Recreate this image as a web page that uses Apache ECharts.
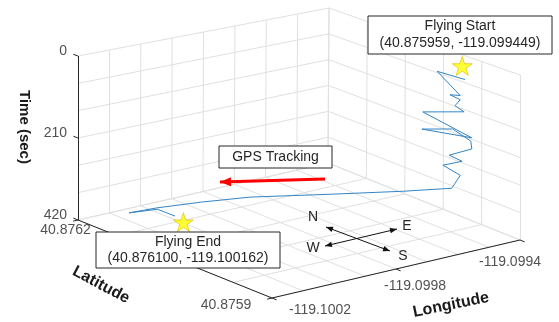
<!DOCTYPE html>
<html>
<head>
<meta charset="utf-8">
<script src="https://cdn.jsdelivr.net/npm/echarts@6/dist/echarts.min.js"></script>
<style>
html, body { margin: 0; padding: 0; background: #fff; }
#gpsTrack { width: 559px; height: 322px; }
</style>
</head>
<body>
<div id="gpsTrack"></div>
<script>
// grid ticks (major labels + minor grid)
const latTicks = [40.8759, 40.87596, 40.87602, 40.87608, 40.87614, 40.8762];
const lonTicks = [-119.1002, -119.1001, -119.1000, -119.0999, -119.0998, -119.0997, -119.0996, -119.0995, -119.0994];
const timeTicks = [0, 70, 140, 210, 280, 350, 420];
const latLabels = [40.8762, 40.8759];
const lonLabels = [-119.1002, -119.0998, -119.0994];
const timeLabels = [0, 210, 420];

// flight path
const pathTime = [20, 30, 50, 60, 70, 85, 100, 110, 160, 165, 170, 185, 200, 215, 230, 240, 260, 295, 300, 310, 320, 330, 340, 350, 360, 370];
const pathLat = [40.875941, 40.875991, 40.875932, 40.875951, 40.875942, 40.875945, 40.875939, 40.875973, 40.875928, 40.875985,
                 40.875973, 40.875946, 40.875940, 40.875952, 40.875944, 40.875955, 40.875939, 40.875946, 40.875971, 40.876015,
                 40.876063, 40.876088, 40.876108, 40.876121, 40.876124, 40.876107];
const pathLon = [-119.099493, -119.099480, -119.099527, -119.099521, -119.099506, -119.099517, -119.099500, -119.099563, -119.099498, -119.099541,
                 -119.099467, -119.099464, -119.099473, -119.099521, -119.099496, -119.099535, -119.099512, -119.099525, -119.099629, -119.099774,
                 -119.099932, -119.100040, -119.100138, -119.100200, -119.100103, -119.100082];

// start / end markers
const markerLat = [40.875959, 40.876092];
const markerLon = [-119.099465, -119.100086];
const markerTime = [0, 375];

const latMin = 40.8759, latMax = 40.8762;
const lonMin = -119.1002, lonMax = -119.0994;
const tMin = 0, tMax = 420;

// screen corners of the 3d box (perspective view), top = time 0, floor = time 420
const boxTop = { F: [272, 126], R: [520, 75], L: [78, 56], B: [329, 8] };
const boxFloor = { F: [272, 298], R: [520, 240], L: [78, 220], B: [328, 163] };

function proj(lat, lon, t) {
    const a = (lon - lonMin) / (lonMax - lonMin);
    const b = (lat - latMin) / (latMax - latMin);
    const c = (t - tMin) / (tMax - tMin);
    const mix = (p, i) => (1 - a) * (1 - b) * p.F[i] + a * (1 - b) * p.R[i] + (1 - a) * b * p.L[i] + a * b * p.B[i];
    const x0 = mix(boxTop, 0), y0 = mix(boxTop, 1);
    const x1 = mix(boxFloor, 0), y1 = mix(boxFloor, 1);
    return [x0 + c * (x1 - x0), y0 + c * (y1 - y0)];
}

// grid on floor and the two back walls
const gridSegs = [];
lonTicks.forEach(lo => gridSegs.push([proj(latMin, lo, tMax), proj(latMax, lo, tMax)]));
latTicks.forEach(la => gridSegs.push([proj(la, lonMin, tMax), proj(la, lonMax, tMax)]));
lonTicks.forEach(lo => gridSegs.push([proj(latMax, lo, tMin), proj(latMax, lo, tMax)]));
timeTicks.forEach(t => gridSegs.push([proj(latMax, lonMin, t), proj(latMax, lonMax, t)]));
latTicks.forEach(la => gridSegs.push([proj(la, lonMax, tMin), proj(la, lonMax, tMax)]));
timeTicks.forEach(t => gridSegs.push([proj(latMin, lonMax, t), proj(latMax, lonMax, t)]));

const axisSegs = [
    [proj(latMax, lonMin, tMin), proj(latMax, lonMin, tMax)],
    [proj(latMax, lonMin, tMax), proj(latMin, lonMin, tMax)],
    [proj(latMin, lonMin, tMax), proj(latMin, lonMax, tMax)]
];

function tick(p, from, len) {
    const dx = p[0] - from[0], dy = p[1] - from[1];
    const d = Math.sqrt(dx * dx + dy * dy);
    return [p, [p[0] + dx / d * len, p[1] + dy / d * len]];
}
const tickSegs = [];
timeLabels.forEach(t => tickSegs.push(tick(proj(latMax, lonMin, t), proj(latMin, lonMin, t), 5)));
latLabels.forEach(la => tickSegs.push(tick(proj(la, lonMin, tMax), proj(la, lonMax, tMax), 5)));
lonLabels.forEach(lo => tickSegs.push(tick(proj(latMin, lo, tMax), proj(latMax, lo, tMax), 5)));

const tickText = [];
timeLabels.forEach(t => tickText.push({
    name: String(t), value: proj(latMax, lonMin, t),
    label: { position: [-11, -5], align: 'right', verticalAlign: 'middle' }
}));
latLabels.forEach(la => {
    const f = (la - latMin) / (latMax - latMin);
    tickText.push({
        name: la.toFixed(4), value: proj(la, lonMin, tMax),
        label: { position: [-46 + 33.5 * f, 7 + 3 * f], align: 'center', verticalAlign: 'middle' }
    });
});
lonLabels.forEach(lo => {
    const f = (lo - lonMin) / (lonMax - lonMin);
    tickText.push({
        name: lo.toFixed(4), value: proj(latMin, lo, tMax),
        label: { position: [48 - 58 * f, 12 + 10 * f], align: 'center', verticalAlign: 'middle' }
    });
});

const pathPts = pathTime.map((t, i) => proj(pathLat[i], pathLon[i], t));
const markerPts = markerTime.map((t, i) => proj(markerLat[i], markerLon[i], t));

const FONT = '"Liberation Sans", Arial, sans-serif';
const TXT = '#262626';
const star = 'path://M50,0 L61,35 L98,35 L68,57 L79,91 L50,70 L21,91 L32,57 L2,35 L39,35 Z';

function arrow(x1, y1, x2, y2, color, width, headLen, headW, both) {
    const els = [{ type: 'line', z: 20, shape: { x1: x1, y1: y1, x2: x2, y2: y2 }, style: { stroke: color, lineWidth: width } }];
    const head = (tx, ty, fx, fy) => {
        const dx = tx - fx, dy = ty - fy, d = Math.sqrt(dx * dx + dy * dy);
        const ux = dx / d, uy = dy / d;
        const bx = tx - ux * headLen, by = ty - uy * headLen;
        return { type: 'polygon', z: 21, shape: { points: [[tx, ty], [bx - uy * headW, by + ux * headW], [bx + uy * headW, by - ux * headW]] }, style: { fill: color } };
    };
    els.push(head(x2, y2, x1, y1));
    if (both) els.push(head(x1, y1, x2, y2));
    return els;
}
function textBox(x, y, w, h, lines) {
    const els = [{ type: 'rect', z: 20, shape: { x: x, y: y, width: w, height: h }, style: { fill: '#fff', stroke: '#262626', lineWidth: 1 } }];
    const step = h / (lines.length + 0.2);
    lines.forEach((s, i) => els.push({
        type: 'text', z: 21, x: x + w / 2, y: y + step * (i + 0.6),
        style: { text: s, font: '14px ' + FONT, fill: TXT, align: 'center', verticalAlign: 'middle' }
    }));
    return els;
}
function label(x, y, s, size, bold, rot) {
    return {
        type: 'text', z: 21, x: x, y: y, rotation: rot || 0,
        style: { text: s, font: (bold ? 'bold ' : '') + size + 'px ' + FONT, fill: bold ? '#1a1a1a' : TXT, align: 'center', verticalAlign: 'middle' }
    };
}

const chart = echarts.init(document.getElementById('gpsTrack'));
const option = {
    animation: false,
    backgroundColor: '#fff',
    grid: { left: 0, right: 0, top: 0, bottom: 0 },
    xAxis: { type: 'value', min: 0, max: 559, show: false },
    yAxis: { type: 'value', min: 0, max: 322, inverse: true, show: false },
    series: [
        {
            type: 'lines', coordinateSystem: 'cartesian2d', silent: true, z: 1,
            lineStyle: { color: '#e0e0e0', width: 1, opacity: 1 },
            data: gridSegs.map(s => ({ coords: s }))
        },
        {
            type: 'lines', coordinateSystem: 'cartesian2d', silent: true, z: 2,
            lineStyle: { color: '#262626', width: 1, opacity: 1 },
            data: axisSegs.concat(tickSegs).map(s => ({ coords: s }))
        },
        {
            type: 'scatter', silent: true, z: 2, symbolSize: 0,
            itemStyle: { color: 'rgba(0,0,0,0)' },
            label: { show: true, formatter: '{b}', color: TXT, fontSize: 14, fontFamily: FONT },
            data: tickText
        },
        {
            type: 'line', z: 3, showSymbol: false, silent: true,
            lineStyle: { color: '#3285c6', width: 1 },
            data: pathPts
        },
        {
            type: 'scatter', z: 4, silent: true, symbol: star, symbolSize: [20, 19],
            itemStyle: { color: '#ffff00', borderColor: '#d9b800', borderWidth: 0.8 },
            data: markerPts
        }
    ],
    graphic: [].concat(
        textBox(219, 146, 113, 22, ['GPS Tracking']),
        arrow(325, 179, 220, 182, '#ff0000', 3, 11, 4.5, false),
        textBox(368, 16, 184, 38, ['Flying Start', '(40.875959, -119.099449)']),
        textBox(96, 232, 184, 36, ['Flying End', '(40.876100, -119.100162)']),
        arrow(390, 251, 326, 227, '#111', 1, 7, 2.8, true),
        arrow(325, 246, 397, 229, '#111', 1, 7, 2.8, true),
        [
            label(313, 217, 'N', 14, false), label(403, 256, 'S', 14, false),
            label(313, 248, 'W', 14, false), label(407, 226, 'E', 14, false),
            label(24, 127, 'Time (sec)', 15, true, -Math.PI / 2),
            label(101, 285, 'Latitude', 16, true, -0.49),
            label(451, 305, 'Longitude', 16, true, 0.2)
        ]
    )
};
chart.setOption(option);
</script>
</body>
</html>
